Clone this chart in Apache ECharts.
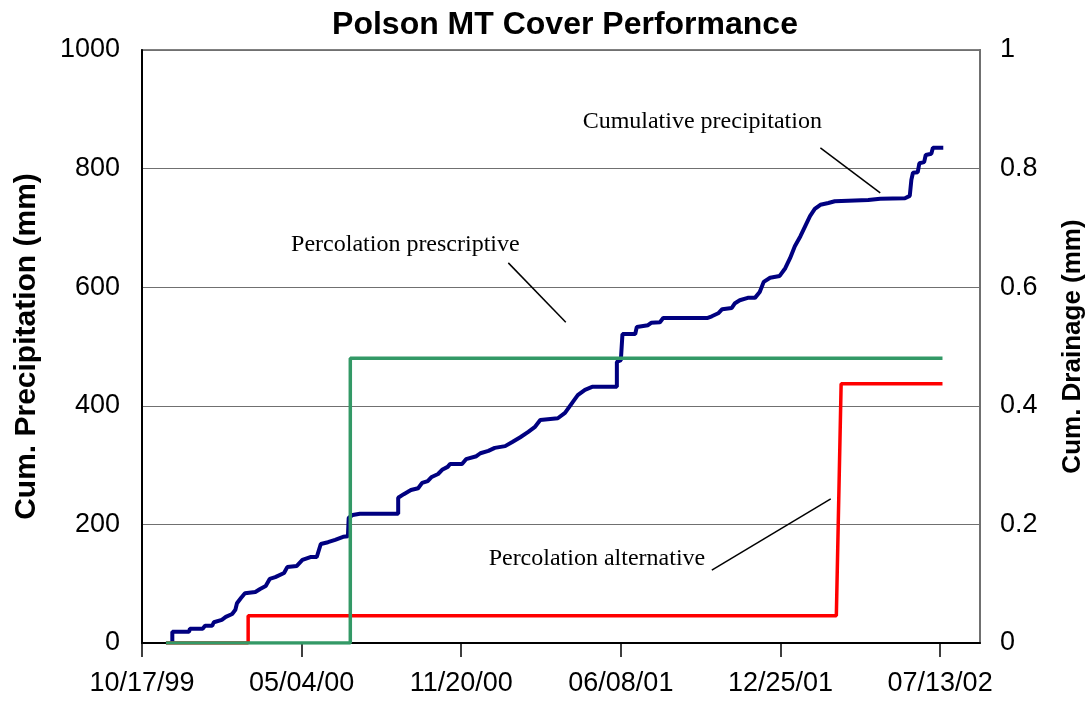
<!DOCTYPE html>
<html>
<head>
<meta charset="utf-8">
<title>Polson MT Cover Performance</title>
<script src="https://cdn.jsdelivr.net/npm/echarts@6.0.0/dist/echarts.min.js"></script>
<style>
  html, body { margin: 0; padding: 0; background: #fff; }
  #chart { width: 1090px; height: 702px; }
</style>
</head>
<body>
<div id="chart"></div>
<script>
// x values are days after 10/17/99
const xTickDays = [0, 200, 400, 600, 800, 1000];
const xTickLabels = ['10/17/99', '05/04/00', '11/20/00', '06/08/01', '12/25/01', '07/13/02'];

// Cumulative precipitation (mm), [day, mm]
const precipitation = [
  [38, 0], [38, 19], [59, 19], [60, 24], [76, 24], [79, 29], [88, 29], [90, 35],
  [100, 39], [105, 44], [113, 49], [117, 56], [119, 67], [124, 76], [129, 84],
  [142, 86], [148, 91], [155, 96], [160, 108], [167, 111], [178, 118], [182, 128],
  [194, 130], [201, 140], [211, 145], [219, 145], [224, 167], [233, 170], [242, 174],
  [252, 179], [258, 180], [259, 211], [264, 216], [273, 218], [321, 218], [321, 245],
  [328, 251], [337, 258], [346, 261], [351, 270], [358, 273], [363, 280], [371, 285],
  [376, 292], [383, 297], [386, 302], [401, 302], [406, 310], [419, 315], [424, 320],
  [434, 324], [442, 329], [455, 332], [464, 339], [474, 347], [484, 356], [492, 364],
  [499, 376], [521, 379], [530, 388], [539, 405], [546, 418], [555, 427], [564, 432],
  [595, 432], [595, 474], [600, 477], [602, 521], [618, 521], [620, 533], [634, 536],
  [638, 540], [649, 541], [653, 548], [708, 548], [714, 551], [722, 556], [727, 563],
  [739, 565], [743, 573], [749, 578], [759, 582], [768, 582], [774, 592], [779, 609],
  [787, 616], [799, 619], [806, 632], [812, 649], [818, 669], [825, 686], [831, 703],
  [837, 720], [843, 732], [850, 739], [860, 742], [868, 745], [910, 747], [925, 749],
  [956, 750], [962, 754], [964, 781], [966, 793], [972, 794], [974, 809], [980, 811],
  [982, 823], [989, 825], [991, 835], [1004, 835]
];

// Cumulative drainage (mm), [day, mm]
const percPrescriptive = [[30, 0], [261, 0], [261, 0.48], [1003, 0.48]];
const percAlternative = [[30, 0], [133, 0], [133, 0.046], [870, 0.046], [876, 0.437], [1003, 0.437]];

// annotation text position and leader line, in [day, mm precipitation]
const noteTexts = ['Cumulative precipitation', 'Percolation prescriptive', 'Percolation alternative'];
const noteAt = [[702, 879], [330, 671], [570, 142]];
const noteLineFrom = [[850, 835], [459, 641], [714, 123]];
const noteLineTo = [[925, 759], [531, 541], [863, 243]];

const chart = echarts.init(document.getElementById('chart'));

const sans = 'Liberation Sans, Arial, sans-serif';

function fmtDay(v) {
  const i = xTickDays.indexOf(v);
  return i >= 0 ? xTickLabels[i] : '';
}

const option = {
  animation: false,
  title: {
    text: 'Polson MT Cover Performance',
    left: 560,
    top: 4,
    textAlign: 'center',
    textStyle: { fontFamily: sans, fontSize: 32, fontWeight: 'bold', color: '#000' }
  },
  grid: {
    left: 142,
    right: 110,
    top: 50,
    bottom: 59,
    outerBoundsMode: 'none',
    show: true,
    borderColor: '#808080',
    borderWidth: 2
  },
  xAxis: {
    type: 'value',
    min: 0,
    max: 1050,
    interval: 200,
    axisLine: { show: true, lineStyle: { color: '#000', width: 2 } },
    axisTick: { show: true, inside: false, length: 14, customValues: xTickDays, lineStyle: { color: '#000', width: 1.5 } },
    axisLabel: {
      customValues: xTickDays,
      formatter: fmtDay,
      margin: 27,
      fontFamily: sans,
      fontSize: 27,
      color: '#000'
    },
    splitLine: { show: false }
  },
  yAxis: [
    {
      type: 'value',
      min: 0,
      max: 1000,
      interval: 200,
      position: 'left',
      name: 'Cum. Precipitation (mm)',
      nameLocation: 'middle',
      nameRotate: 90,
      nameGap: 100,
      nameTextStyle: { fontFamily: sans, fontSize: 30, fontWeight: 'bold', color: '#000', padding: [0, 0, 0, 0] },
      axisLine: { show: true, lineStyle: { color: '#000', width: 2 } },
      axisTick: { show: false },
      axisLabel: { margin: 22, fontFamily: sans, fontSize: 27, color: '#000', formatter: v => String(v) },
      splitLine: { show: true, lineStyle: { color: '#707070', width: 1 } }
    },
    {
      type: 'value',
      min: 0,
      max: 1,
      interval: 0.2,
      position: 'right',
      name: 'Cum. Drainage (mm)',
      nameLocation: 'middle',
      nameRotate: 90,
      nameGap: 80,
      nameTextStyle: { fontFamily: sans, fontSize: 26, fontWeight: 'bold', color: '#000' },
      axisLine: { show: true, lineStyle: { color: '#707070', width: 2 } },
      axisTick: { show: false },
      axisLabel: { margin: 20, fontFamily: sans, fontSize: 27, color: '#000' },
      splitLine: { show: false }
    }
  ],
  series: [
    {
      name: 'Cumulative precipitation',
      type: 'line',
      yAxisIndex: 0,
      data: precipitation,
      showSymbol: false,
      lineStyle: { color: '#000080', width: 4 },
      z: 3
    },
    {
      name: 'Percolation alternative',
      type: 'line',
      yAxisIndex: 1,
      data: percAlternative,
      showSymbol: false,
      lineStyle: { color: '#ff0000', width: 3.5 },
      z: 4
    },
    {
      name: 'Percolation prescriptive',
      type: 'line',
      yAxisIndex: 1,
      data: percPrescriptive,
      showSymbol: false,
      lineStyle: { color: '#339966', width: 3.5 },
      z: 5
    }
  ]
};

chart.setOption(option);

// annotations placed from data coordinates
const toPx = p => chart.convertToPixel({ xAxisIndex: 0, yAxisIndex: 0 }, p);
const notes = [];
noteTexts.forEach((t, i) => {
  const at = toPx(noteAt[i]);
  const a = toPx(noteLineFrom[i]);
  const b = toPx(noteLineTo[i]);
  notes.push({
    type: 'text',
    x: at[0],
    y: at[1],
    z: 10,
    style: {
      text: t,
      fontFamily: 'Liberation Serif, Times New Roman, serif',
      fontSize: 24,
      fill: '#000',
      align: 'center',
      verticalAlign: 'middle'
    }
  });
  notes.push({
    type: 'line',
    z: 10,
    shape: { x1: a[0], y1: a[1], x2: b[0], y2: b[1] },
    style: { stroke: '#000', lineWidth: 1.5 }
  });
});
chart.setOption({ graphic: notes });
</script>
</body>
</html>
